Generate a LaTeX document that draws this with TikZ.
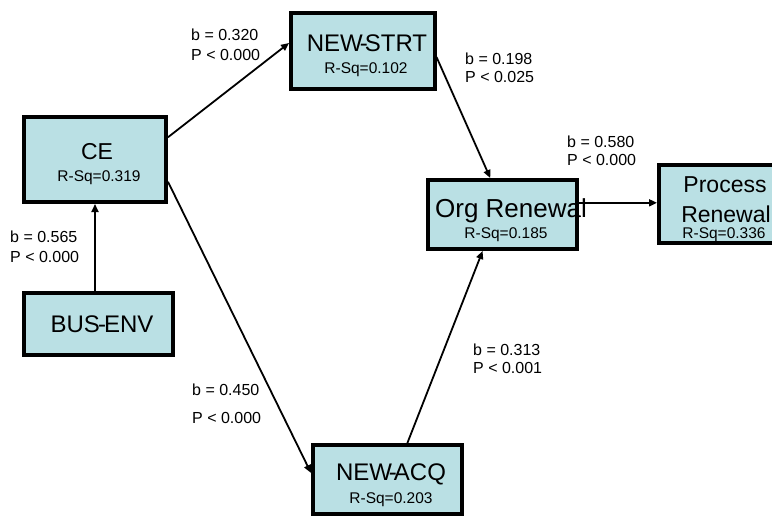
\documentclass[tikz,border=0pt]{standalone}
\usepackage{fontspec}
\setmainfont{Liberation Sans}
\usetikzlibrary{arrows.meta,calc}
\definecolor{boxfill}{RGB}{186,224,228}
\tikzset{
  box/.style={draw=black, line width=4pt, fill=boxfill, inner sep=0pt, anchor=center},
  arr/.style={line width=1.8pt, -{Triangle[length=8pt,width=7pt]}},
  ttl/.style={anchor=base, inner sep=0pt, font=\fontsize{24}{28}\selectfont},
  rsq/.style={anchor=base, inner sep=0pt, font=\fontsize{15.5}{18}\selectfont},
  lbl/.style={anchor=base west, inner sep=0pt, font=\fontsize{16}{19}\selectfont}
}
\begin{document}
\begin{tikzpicture}[x=1pt,y=-1pt]
\useasboundingbox (0,0) rectangle (772,519);
\clip (0,0) rectangle (772,519);
% boxes
\node[box, minimum width=142pt, minimum height=85pt] (ce) at (95,159.5) {};
\node[box, minimum width=149pt, minimum height=62pt] (be) at (98.5,324) {};
\node[box, minimum width=143.5pt, minimum height=76pt] (ns) at (362.75,51) {};
\node[box, minimum width=149pt, minimum height=69pt] (org) at (502.5,214.5) {};
\node[box, minimum width=132pt, minimum height=78pt] (pr) at (725,204) {};
\node[box, minimum width=149pt, minimum height=69pt] (na) at (387.5,479.5) {};
% box texts
\node[ttl, font=\fontsize{23}{27}\selectfont] (cet) at (97,160) {CE};
\node[rsq] (cer) at (99,181) {R-Sq=0.319};
\node[ttl] (bet) at (102,332) {BUS\kern-2pt-\kern-2pt ENV};
\node[ttl] (nst) at (367,51.5) {NEW\kern-3pt-\kern-3pt STRT};
\node[rsq] (nsr) at (366,74) {R-Sq=0.102};
\node[ttl, font=\fontsize{26}{30}\selectfont] (orgt) at (511,217) {Org Renewal};
\node[rsq] (orgr) at (506,238) {R-Sq=0.185};
\node[ttl, font=\fontsize{23}{27}\selectfont] (prt1) at (725,192) {Process};
\node[ttl, font=\fontsize{23}{27}\selectfont] (prt2) at (726,222) {Renewal};
\node[rsq] (prr) at (724,238) {R-Sq=0.336};
\node[ttl] (nat) at (391,480) {NEW\kern-3pt-\kern-3pt ACQ};
\node[rsq] (nar) at (391,503) {R-Sq=0.203};
% connectors
\draw[arr] (be.north -| ce.south) -- (ce.south);
\draw[arr] ($(ce.north east)!0.25!(ce.south east)$) -- ($(ns.north west)!0.40!(ns.south west)$);
\draw[arr] ($(ce.north east)!0.75!(ce.south east)$) -- ($(na.north west)!0.41!(na.south west)$);
\draw[arr] ($(ns.north east)!0.575!(ns.south east)$) -- ($(org.north west)!0.42!(org.north east)$);
\draw[arr] ($(na.north west)!0.63!(na.north east)$) -- ($(org.south west)!0.37!(org.south east)$);
\coordinate (os) at ($(org.north east)!0.34!(org.south east)$);
\draw[arr] (os) -- (pr.west |- os);
% labels
\node[lbl] (l1a) at (191,41) {b = 0.320};
\node[lbl] (l1b) at (191,61) {P < 0.000};
\node[lbl] (l2a) at (465,65) {b = 0.198};
\node[lbl] (l2b) at (465,83) {P < 0.025};
\node[lbl] (l3a) at (567,147) {b = 0.580};
\node[lbl] (l3b) at (567,165) {P < 0.000};
\node[lbl] (l4a) at (10,242) {b = 0.565};
\node[lbl] (l4b) at (10,262) {P < 0.000};
\node[lbl] (l5a) at (473,355) {b = 0.313};
\node[lbl] (l5b) at (473,373) {P < 0.001};
\node[lbl] (l6a) at (192,395) {b = 0.450};
\node[lbl] (l6b) at (192,423) {P < 0.000};
\end{tikzpicture}
\end{document}
